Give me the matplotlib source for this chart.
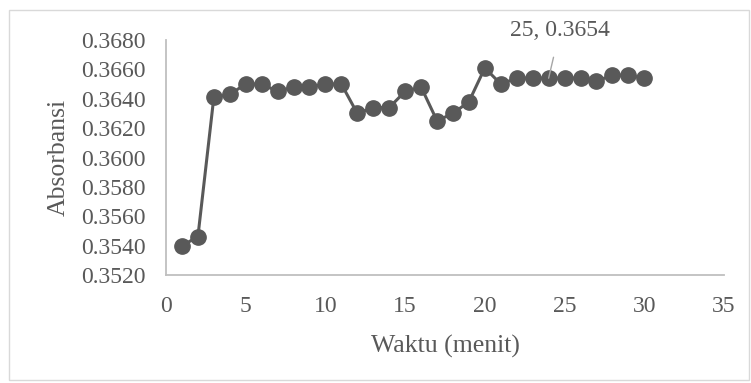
import matplotlib.pyplot as plt
from matplotlib.patches import Rectangle

# absorbance readings over time
waktu = list(range(1, 31))
absorbansi = [0.3540, 0.3546, 0.3641, 0.3643, 0.3650, 0.3650, 0.3645, 0.3648,
              0.3648, 0.3650, 0.3650, 0.3630, 0.3634, 0.3634, 0.3645, 0.3648,
              0.3625, 0.3630, 0.3638, 0.3661, 0.3650, 0.3654, 0.3654, 0.3654,
              0.3654, 0.3654, 0.3652, 0.3656, 0.3656, 0.3654]
y_ticks = [0.3520, 0.3540, 0.3560, 0.3580, 0.3600, 0.3620, 0.3640, 0.3660, 0.3680]
x_ticks = [0, 5, 10, 15, 20, 25, 30, 35]

plt.rcParams['font.family'] = ['Liberation Serif', 'DejaVu Serif']
txt = '#595959'
axis_c = '#bfbfbf'

fig = plt.figure(figsize=(7.51, 3.83), dpi=100)
ax = fig.add_axes([166 / 751, 1 - 275 / 383, (724 - 166) / 751, (275 - 40) / 383])

# chart area border
fig.patches.append(Rectangle((9 / 751, 1 - 380 / 383), 740 / 751, 370 / 383,
                             transform=fig.transFigure, fill=False,
                             edgecolor='#d9d9d9', linewidth=1))

ax.plot(waktu, absorbansi, color='#595959', linewidth=2.2, marker='o',
        markersize=11, markerfacecolor='#595959', markeredgecolor='#595959')

ax.set_xlim(0, 35)
ax.set_ylim(0.3520, 0.3680)
ax.set_xticks(x_ticks)
ax.set_yticks(y_ticks)
ax.set_yticklabels(['%.4f' % v for v in y_ticks])

for s in ['top', 'right']:
    ax.spines[s].set_visible(False)
for s in ['left', 'bottom']:
    ax.spines[s].set_color(axis_c)
    ax.spines[s].set_linewidth(1.3)
ax.tick_params(length=0, labelsize=17, colors=txt)
ax.tick_params(axis='y', pad=14.5)
ax.tick_params(axis='x', pad=15)

ax.set_xlabel('Waktu (menit)', fontsize=18.5, color=txt, labelpad=13)
ax.set_ylabel('Absorbansi', fontsize=18.5, color=txt, labelpad=8)

# data label for the 25th minute
ax.annotate('25, 0.3654', xy=(24.0, 0.3654), xytext=(24.7, 0.36865),
            ha='center', va='center', fontsize=17, color=txt,
            arrowprops=dict(arrowstyle='-', color='#a6a6a6', lw=1,
                            shrinkA=10, shrinkB=0),
            annotation_clip=False)

fig.savefig('out.png', dpi=100)
